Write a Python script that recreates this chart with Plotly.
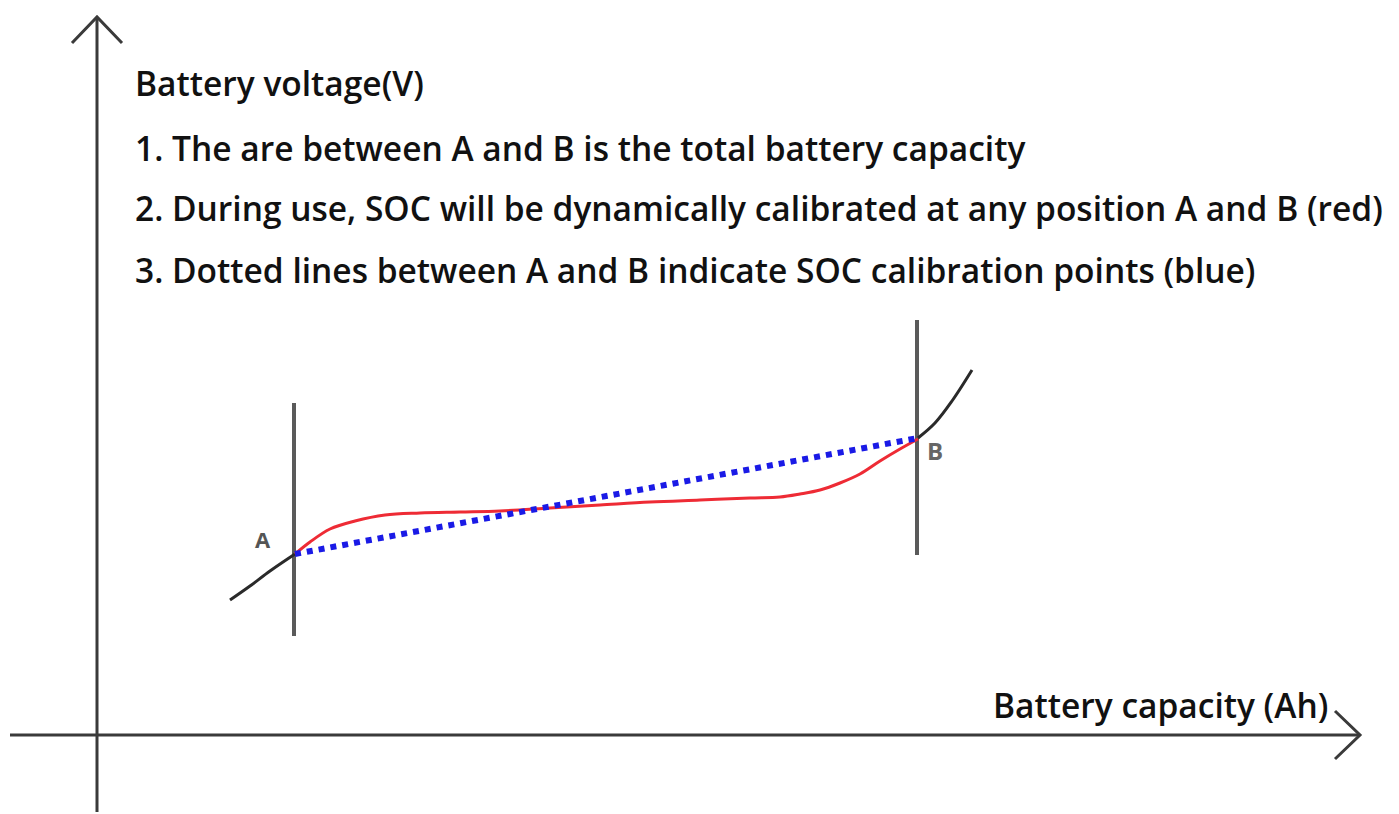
import plotly.graph_objects as go

# ---- data (diagram units: x = capacity, y = voltage, both in arbitrary units) ----
ocv_low_x = [230, 250, 270, 295]
ocv_low_y = [214, 228, 243, 260]
ocv_high_x = [918, 935, 952, 972]
ocv_high_y = [376, 391, 413, 444]

soc_red_x = [295, 310, 330, 355, 385, 420, 460, 500, 550, 600, 650, 700, 750, 780, 800, 820, 840, 860, 880, 900, 918]
soc_red_y = [260, 272, 285, 293, 299, 301, 302, 303, 306, 309, 312, 314, 316, 317, 320, 324, 331, 340, 353, 365, 375]

calib_x = [295, 918]
calib_y = [260, 376]

marker_a_x = [294, 294]
marker_a_y = [411, 178]
marker_b_x = [917, 917]
marker_b_y = [494, 259]

y_axis_x = [97, 97]
y_axis_y = [2, 797]
x_axis_x = [10, 1360]
x_axis_y = [79, 79]

title_lines = [
    "Battery voltage(V)",
    "1. The are between A and B is the total battery capacity",
    "2. During use, SOC will be dynamically calibrated at any position A and B (red)",
    "3. Dotted lines between A and B indicate SOC calibration points (blue)",
]
title_y = [731, 666, 606, 544]
x_title = "Battery capacity (Ah)"

# page has an 8px body margin; shift ranges so diagram units map to page pixels
PAGE_OFF = 8

fig = go.Figure()

axis_col = "#3a3a3a"
fig.add_trace(go.Scatter(x=y_axis_x, y=y_axis_y, mode="lines",
                         line=dict(color=axis_col, width=3), hoverinfo="skip"))
fig.add_trace(go.Scatter(x=[y_axis_x[0] - 25, y_axis_x[0], y_axis_x[0] + 25],
                         y=[y_axis_y[1] - 26, y_axis_y[1], y_axis_y[1] - 26],
                         mode="lines", line=dict(color=axis_col, width=3), hoverinfo="skip"))
fig.add_trace(go.Scatter(x=x_axis_x, y=x_axis_y, mode="lines",
                         line=dict(color=axis_col, width=3), hoverinfo="skip"))
fig.add_trace(go.Scatter(x=[x_axis_x[1] - 25, x_axis_x[1], x_axis_x[1] - 25],
                         y=[x_axis_y[0] + 24, x_axis_y[0], x_axis_y[0] - 24],
                         mode="lines", line=dict(color=axis_col, width=3), hoverinfo="skip"))

fig.add_trace(go.Scatter(x=marker_a_x, y=marker_a_y, mode="lines",
                         line=dict(color="#5a5a5a", width=4), hoverinfo="skip"))
fig.add_trace(go.Scatter(x=marker_b_x, y=marker_b_y, mode="lines",
                         line=dict(color="#5a5a5a", width=4), hoverinfo="skip"))

fig.add_trace(go.Scatter(x=ocv_low_x, y=ocv_low_y, mode="lines", line_shape="spline",
                         line=dict(color="#2a2a2a", width=3), hoverinfo="skip"))
fig.add_trace(go.Scatter(x=ocv_high_x, y=ocv_high_y, mode="lines", line_shape="spline",
                         line=dict(color="#2a2a2a", width=3), hoverinfo="skip"))

fig.add_trace(go.Scatter(x=soc_red_x, y=soc_red_y, mode="lines", line_shape="spline",
                         line=dict(color="#ee2b35", width=3), hoverinfo="skip"))

fig.add_trace(go.Scatter(x=calib_x, y=calib_y, mode="lines",
                         line=dict(color="#1a1ae6", width=6, dash="6px,6px"), hoverinfo="skip"))

txt_font = dict(family="Open Sans", size=33.5, color="#111", weight=600)
annotations = []
for t, yy in zip(title_lines, title_y):
    annotations.append(dict(x=133, y=yy, xref="x", yref="y", text=t, showarrow=False,
                            xanchor="left", yanchor="middle", font=txt_font))
annotations.append(dict(x=1330, y=109, xref="x", yref="y", text=x_title, showarrow=False,
                        xanchor="right", yanchor="middle", font=txt_font))
annotations.append(dict(x=263, y=275, xref="x", yref="y", text="<b>A</b>", showarrow=False,
                        font=dict(family="Open Sans", size=22, color="#555")))
annotations.append(dict(x=935, y=364, xref="x", yref="y", text="<b>B</b>", showarrow=False,
                        font=dict(family="Open Sans", size=24, color="#666")))

fig.update_layout(
    width=1399, height=814,
    margin=dict(l=0, r=0, t=0, b=0),
    paper_bgcolor="white", plot_bgcolor="white",
    showlegend=False,
    xaxis=dict(range=[PAGE_OFF, 1399 + PAGE_OFF], visible=False, fixedrange=True),
    yaxis=dict(range=[-PAGE_OFF, 814 - PAGE_OFF], visible=False, fixedrange=True),
    annotations=annotations,
)

fig.write_html("out.html", config={"displayModeBar": False})
